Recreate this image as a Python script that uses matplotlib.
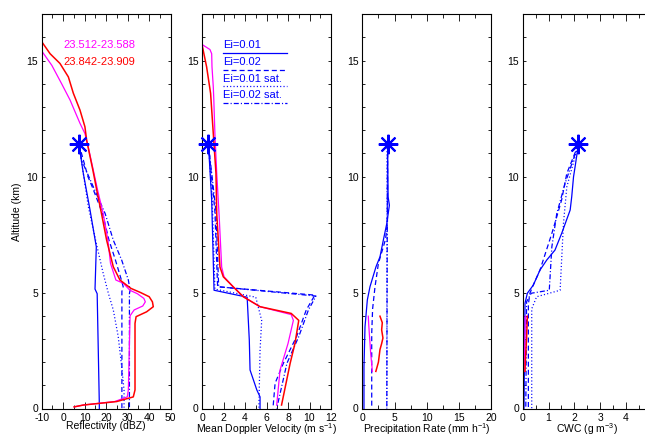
import matplotlib
matplotlib.use('Agg')
import matplotlib.pyplot as plt
from matplotlib.ticker import MultipleLocator, FixedLocator

plt.rcParams['font.family'] = ['Liberation Sans', 'DejaVu Sans']
plt.rcParams['mathtext.default'] = 'regular'
plt.rcParams['font.size'] = 7.5
plt.rcParams['lines.scale_dashes'] = False
plt.rcParams['axes.unicode_minus'] = False

BLUE = '#0000ff'
RED = '#ff0000'
MAG = '#ff00ff'

# ---------------- data ----------------
star_alt = 11.4
star_vals = [7.35, 0.6, 3.93, 2.16]

# Panel 1: Reflectivity (dBZ)
p1_red_alt = [15.78, 15.3, 14.88, 14.3, 13.6, 12.87, 12.15, 11.57, 10.28, 9.42, 8.41, 7.26, 6.11, 5.54, 5.18, 5.0, 4.82, 4.6, 4.39, 4.17, 3.96, 3.67, 0.8, 0.5, 0.3, 0.15, 0.07]
p1_red = [-9.7, -6.1, -1.5, 2.4, 4.7, 7.8, 10.1, 10.9, 13.8, 15.6, 17.8, 20.2, 23.3, 26.4, 31.5, 36.0, 40.0, 41.5, 41.9, 38.8, 33.9, 33.4, 33.4, 32.6, 24.9, 9.4, 5.1]
p1_mag_alt = [15.38, 14.8, 14.0, 13.3, 12.3, 11.86, 11.3, 10.28, 9.42, 8.41, 7.26, 6.26, 5.54, 5.4, 5.1, 4.95, 4.75, 4.6, 4.42, 4.25, 4.0, 0.8, 0.5, 0.3, 0.15, 0.07]
p1_mag = [-9.7, -5.3, -0.7, 3.2, 7.8, 10.1, 11.6, 14.0, 16.0, 18.6, 20.8, 22.0, 24.5, 28.0, 31.0, 34.5, 37.5, 38.2, 37.0, 33.0, 31.1, 30.3, 29.8, 24.0, 9.4, 5.1]
p1_e1_alt = [11.39, 10.14, 8.55, 6.97, 5.15, 4.95, 0.2, 0.0]
p1_e1 = [7.35, 9.35, 12.5, 15.4, 14.8, 15.8, 16.8, 16.8]
p1_e2_alt = [11.39, 10.0, 9.56, 8.41, 7.26, 6.4, 5.5, 5.25, 5.05, 0.0]
p1_e2 = [7.35, 11.5, 13.5, 18.3, 21.3, 24.3, 27.2, 27.9, 27.3, 27.3]
p1_e1s_alt = [11.39, 10.14, 8.7, 7.12, 5.83, 4.97, 4.25, 3.1, 1.8, 0.8, 0.0]
p1_e1s = [7.35, 9.35, 11.7, 15.4, 18.6, 21.0, 23.3, 25.6, 27.2, 28.3, 28.3]
p1_e2s_alt = [11.39, 10.7, 9.56, 8.41, 7.26, 6.4, 5.54, 5.1, 4.95, 0.0]
p1_e2s = [7.35, 8.6, 14.0, 19.5, 23.3, 27.2, 30.3, 31.1, 30.8, 30.8]

# Panel 2: Mean Doppler Velocity (m/s)
p2_red_alt = [15.7, 14.73, 13.59, 11.86, 10.14, 8.4, 6.1, 5.68, 5.25, 4.82, 4.39, 4.1, 3.8, 2.81, 1.95, 0.15]
p2_red = [0.0, 0.43, 0.8, 1.05, 1.3, 1.37, 1.67, 1.98, 2.9, 3.84, 5.4, 8.3, 9.0, 8.65, 8.2, 7.4]
p2_mag_alt = [15.7, 15.48, 15.3, 14.73, 13.87, 13.3, 11.86, 10.14, 8.27, 6.1, 5.68, 5.25, 4.82, 4.39, 4.05, 3.8, 2.8, 1.66, 0.15]
p2_mag = [0.0, 0.74, 0.9, 0.93, 1.05, 1.1, 1.2, 1.37, 1.6, 1.83, 2.05, 2.9, 3.84, 5.4, 8.3, 8.5, 8.0, 7.26, 6.95]
p2_e1_alt = [11.39, 9.0, 5.1, 4.8, 2.95, 1.66, 0.8, 0.5, 0.0]
p2_e1 = [0.6, 0.9, 1.12, 4.2, 4.4, 4.47, 5.1, 5.4, 5.4]
p2_e2_alt = [11.39, 8.5, 5.25, 4.89, 4.25, 3.1, 1.95, 1.09, 0.0]
p2_e2 = [0.6, 1.2, 1.45, 10.5, 9.7, 8.8, 7.57, 6.8, 6.6]
p2_e1s_alt = [11.39, 9.0, 5.15, 4.8, 3.8, 2.5, 0.2, 0.0]
p2_e1s = [0.6, 0.95, 1.2, 5.0, 5.55, 5.4, 5.3, 5.3]
p2_e2s_alt = [11.39, 8.5, 5.25, 4.85, 4.25, 3.1, 1.95, 0.0]
p2_e2s = [0.6, 1.3, 1.55, 10.6, 9.9, 9.0, 7.9, 6.95]

# Panel 3: Precipitation Rate (mm/h)
p3_red_alt = [3.98, 3.7, 3.39, 3.04, 2.8, 2.54, 2.0, 1.6]
p3_red = [2.74, 3.1, 3.0, 3.2, 3.0, 2.74, 2.5, 2.1]
p3_mag_alt = [3.98, 3.6, 3.23, 2.8, 2.37, 1.8, 1.6]
p3_mag = [0.93, 1.0, 1.09, 1.2, 1.3, 1.5, 1.55]
p3_e1_alt = [11.39, 10.5, 9.13, 8.77, 7.98, 7.26, 6.54, 6.11, 5.25, 4.68, 3.53, 1.8, 0.0]
p3_e1 = [3.93, 3.95, 4.0, 4.2, 3.8, 3.26, 2.74, 2.12, 1.19, 0.78, 0.42, 0.26, 0.26]
p3_e2_alt = [11.39, 8.0, 7.3, 6.97, 6.26, 5.25, 4.3, 3.24, 0.0]
p3_e2 = [3.93, 3.9, 3.6, 3.26, 2.5, 1.97, 1.6, 1.46, 1.46]
p3_e1s_alt = [11.39, 0.0]
p3_e1s = [3.85, 3.8]
p3_e2s_alt = [11.39, 0.0]
p3_e2s = [3.9, 3.8]

# Panel 4: CWC (g/m3)
p4_red_alt = [3.98, 3.0, 2.0, 1.6]
p4_red = [0.18, 0.15, 0.1, 0.09]
p4_mag_alt = [3.98, 3.0, 2.0, 1.6]
p4_mag = [0.1, 0.08, 0.07, 0.07]
p4_e1_alt = [11.39, 10.42, 9.99, 9.13, 8.56, 7.55, 6.83, 6.4, 5.97, 5.32, 4.97, 4.54, 0.0]
p4_e1 = [2.16, 2.03, 1.97, 1.9, 1.84, 1.51, 1.25, 0.93, 0.67, 0.41, 0.18, 0.09, 0.05]
p4_e2_alt = [11.39, 10.14, 9.0, 8.0, 7.55, 5.97, 5.25, 4.97, 4.5, 0.0]
p4_e2 = [2.16, 1.71, 1.51, 1.25, 1.13, 0.67, 0.38, 0.28, 0.22, 0.22]
p4_e1s_alt = [11.39, 9.56, 7.98, 5.1, 4.82, 4.3, 0.0]
p4_e1s = [2.16, 1.71, 1.58, 1.45, 0.54, 0.35, 0.35]
p4_e2s_alt = [11.39, 9.7, 8.4, 6.97, 5.1, 4.97, 4.6, 0.0]
p4_e2s = [2.16, 1.64, 1.32, 1.13, 1.03, 0.33, 0.15, 0.12]

xlabels = ['Reflectivity (dBZ)', 'Mean Doppler Velocity (m s$^{-1}$)',
           'Precipitation Rate (mm h$^{-1}$)', 'CWC (g m$^{-3}$)']
xlims = [(-10, 50), (0, 12), (0, 20), (0, 5)]
xticks = [[-10, 0, 10, 20, 30, 40, 50], [0, 2, 4, 6, 8, 10, 12],
          [0, 5, 10, 15, 20], [0, 1, 2, 3, 4]]
xminor = [5, 1, 2.5, 0.5]
legend_labels = ['Ei=0.01', 'Ei=0.02', 'Ei=0.01 sat.', 'Ei=0.02 sat.']
case_labels = ['23.512-23.588', '23.842-23.909']

panels = [
    (p1_red_alt, p1_red, p1_mag_alt, p1_mag, p1_e1_alt, p1_e1, p1_e2_alt, p1_e2, p1_e1s_alt, p1_e1s, p1_e2s_alt, p1_e2s),
    (p2_red_alt, p2_red, p2_mag_alt, p2_mag, p2_e1_alt, p2_e1, p2_e2_alt, p2_e2, p2_e1s_alt, p2_e1s, p2_e2s_alt, p2_e2s),
    (p3_red_alt, p3_red, p3_mag_alt, p3_mag, p3_e1_alt, p3_e1, p3_e2_alt, p3_e2, p3_e1s_alt, p3_e1s, p3_e2s_alt, p3_e2s),
    (p4_red_alt, p4_red, p4_mag_alt, p4_mag, p4_e1_alt, p4_e1, p4_e2_alt, p4_e2, p4_e1s_alt, p4_e1s, p4_e2s_alt, p4_e2s),
]

styles = ['-', (0, (3.6, 2.2)), (0, (0.8, 1.6)), (0, (3.6, 1.5, 0.8, 1.5))]

# ---------------- figure ----------------
W, H = 645, 437
fig = plt.figure(figsize=(W / 100, H / 100), dpi=100)
lefts = [41.7, 202.0, 362.3, 522.7]
ax_w, ax_bot, ax_top = 129.0, 408.5, 14.3

for i, (d, left) in enumerate(zip(panels, lefts)):
    ax = fig.add_axes([left / W, (H - ax_bot) / H, ax_w / W, (ax_bot - ax_top) / H])
    ra, rv, ma, mv, a1, v1, a2, v2, a3, v3, a4, v4 = d
    lw = 0.9
    ax.plot(v1, a1, color=BLUE, lw=lw, linestyle=styles[0])
    ax.plot(v2, a2, color=BLUE, lw=lw, linestyle=styles[1])
    ax.plot(v3, a3, color=BLUE, lw=lw, linestyle=styles[2])
    ax.plot(v4, a4, color=BLUE, lw=lw, linestyle=styles[3])
    ax.plot(mv, ma, color=MAG, lw=lw)
    ax.plot(rv, ra, color=RED, lw=1.1)
    ax.plot([star_vals[i]], [star_alt], linestyle='none', marker=(8, 2, 0),
            markersize=14, markeredgewidth=1.5, color=BLUE, clip_on=False, zorder=5)

    ax.set_xlim(*xlims[i])
    ax.set_ylim(0, 17)
    ax.xaxis.set_major_locator(FixedLocator(xticks[i]))
    ax.xaxis.set_minor_locator(MultipleLocator(xminor[i]))
    ax.yaxis.set_major_locator(MultipleLocator(5))
    ax.yaxis.set_minor_locator(MultipleLocator(1))
    ax.tick_params(axis='x', which='major', direction='in', top=True, bottom=True,
                   length=4.7, width=0.6, pad=3, labelsize=7.5)
    ax.tick_params(axis='x', which='minor', direction='in', top=True, bottom=True,
                   length=2.9, width=0.6)
    ax.tick_params(axis='y', which='both', direction='in', left=True, right=True,
                   length=2.0, width=0.6, pad=2.5, labelsize=7.5)
    for s in ax.spines.values():
        s.set_linewidth(0.8)
    ax.set_xlabel(xlabels[i], fontsize=7.5, labelpad=-1.0)
    if i == 0:
        ax.set_ylabel('Altitude (km)', fontsize=7.5, labelpad=3)
        ax.text(0.167, 0.922, case_labels[0], color=MAG, transform=ax.transAxes,
                fontsize=8, va='center', ha='left')
        ax.text(0.167, 0.88, case_labels[1], color=RED, transform=ax.transAxes,
                fontsize=8, va='center', ha='left')
    if i == 1:
        ty = [0.922, 0.878, 0.837, 0.796]
        ly = [0.9006, 0.858, 0.818, 0.776]
        for lab, t, l, st in zip(legend_labels, ty, ly, styles):
            ax.text(0.163, t, lab, color=BLUE, transform=ax.transAxes,
                    fontsize=8, va='center', ha='left')
            ax.plot([0.163, 0.659], [l, l], color=BLUE, lw=0.9, linestyle=st,
                    transform=ax.transAxes)

fig.savefig('out.png', dpi=100)
